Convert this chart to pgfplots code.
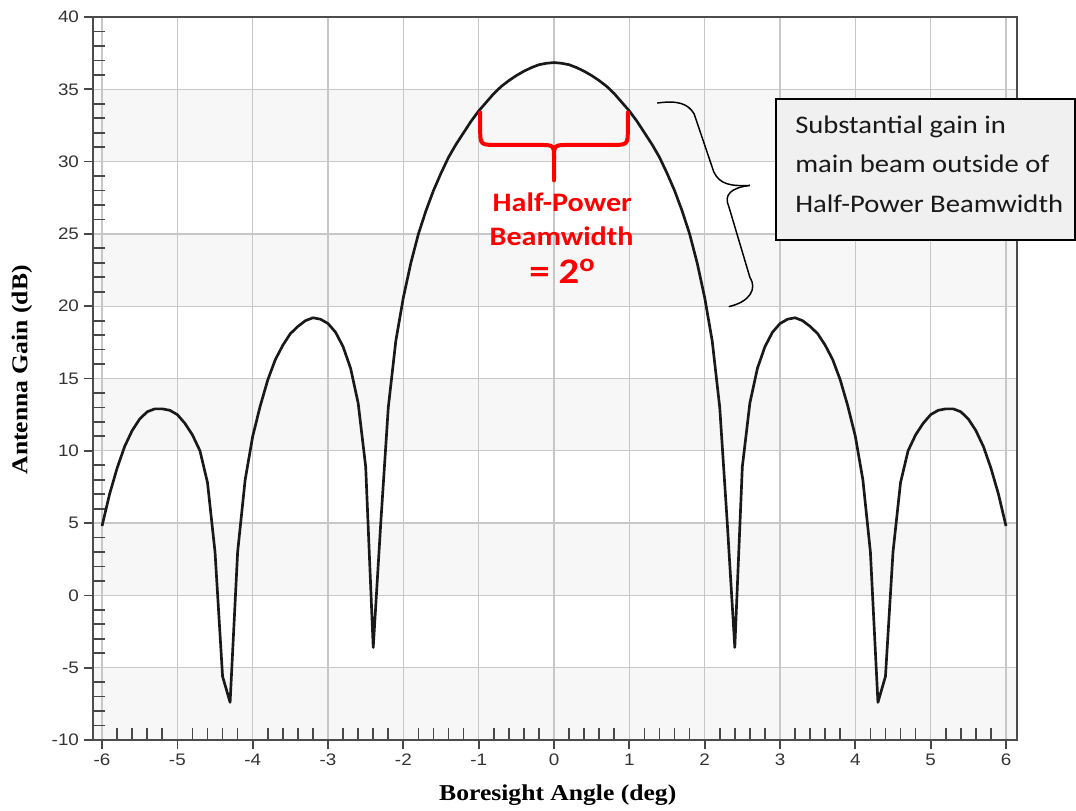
\documentclass[border=0pt]{standalone}
\usepackage{pgfplots}
\pgfplotsset{compat=1.18}
\usepackage{pgfplotstable}
\usepackage{fontspec}
\newfontfamily\tickfont[FakeStretch=1.13]{Liberation Sans}
\newfontfamily\labfont[FakeStretch=1.13]{Liberation Serif}
\newfontfamily\calib[FakeStretch=1.13]{Carlito}

\pgfplotstableread{
x y
-6.0 4.8
-5.9 7.0
-5.8 8.8
-5.7 10.3
-5.6 11.4
-5.5 12.2
-5.4 12.7
-5.3 12.9
-5.2 12.9
-5.1 12.8
-5.0 12.5
-4.9 11.9
-4.8 11.1
-4.7 10.0
-4.6 7.8
-4.5 3.0
-4.4 -5.6
-4.3 -7.4
-4.2 3.0
-4.1 8.0
-4.0 11.0
-3.9 13.1
-3.8 14.9
-3.7 16.3
-3.6 17.3
-3.5 18.1
-3.4 18.6
-3.3 19.0
-3.2 19.2
-3.1 19.1
-3.0 18.8
-2.9 18.2
-2.8 17.2
-2.7 15.7
-2.6 13.3
-2.5 8.9
-2.4 -3.6
-2.3 5.0
-2.2 13.0
-2.1 17.6
-2.0 20.6
-1.9 23.0
-1.8 25.0
-1.7 26.6
-1.6 28.0
-1.5 29.2
-1.4 30.3
-1.3 31.2
-1.2 32.0
-1.1 32.8
-1.0 33.5
-0.9 34.1
-0.8 34.7
-0.7 35.2
-0.6 35.6
-0.5 35.95
-0.4 36.25
-0.3 36.5
-0.2 36.7
-0.1 36.8
0.0 36.85
0.1 36.8
0.2 36.7
0.3 36.5
0.4 36.25
0.5 35.95
0.6 35.6
0.7 35.2
0.8 34.7
0.9 34.1
1.0 33.5
1.1 32.8
1.2 32.0
1.3 31.2
1.4 30.3
1.5 29.2
1.6 28.0
1.7 26.6
1.8 25.0
1.9 23.0
2.0 20.6
2.1 17.6
2.2 13.0
2.3 5.0
2.4 -3.6
2.5 8.9
2.6 13.3
2.7 15.7
2.8 17.2
2.9 18.2
3.0 18.8
3.1 19.1
3.2 19.2
3.3 19.0
3.4 18.6
3.5 18.1
3.6 17.3
3.7 16.3
3.8 14.9
3.9 13.1
4.0 11.0
4.1 8.0
4.2 3.0
4.3 -7.4
4.4 -5.6
4.5 3.0
4.6 7.8
4.7 10.0
4.8 11.1
4.9 11.9
5.0 12.5
5.1 12.8
5.2 12.9
5.3 12.9
5.4 12.7
5.5 12.2
5.6 11.4
5.7 10.3
5.8 8.8
5.9 7.0
6.0 4.8
}\gaindata

\begin{document}
\begin{tikzpicture}
\begin{axis}[
  at={(0,0)}, anchor=south west,
  scale only axis, width=693pt, height=542.25pt,
  xmin=-6.12, xmax=6.146, ymin=-10, ymax=40,
  xtick={-6,...,6}, ytick={-10,-5,...,40},
  minor x tick num=4, minor y tick num=4,
  xtick pos=bottom, ytick pos=left,
  tick align=outside,
  major tick length=7pt,
  minor tick length=-9pt,
  tick style={black!72, line width=1.3pt},
  grid=major,
  major grid style={black!22, line width=0.9pt},
  axis line style={black!70, line width=1.5pt},
  set layers,
  clip=false,
  ticklabel style={font=\tickfont\fontsize{12.5}{14}\selectfont, text=black!80},
  /pgf/number format/assume math mode=true,
  xlabel={Boresight Angle (deg)},
  ylabel={Antenna Gain (dB)},
  label style={font=\labfont\bfseries\fontsize{17}{20}\selectfont},
  xlabel style={at={(axis description cs:0.503,-0.0761)}, anchor=center},
  ylabel style={at={(axis description cs:-0.0768,0.512)}, anchor=center},
]
\addplot[on layer=axis background, fill=black!3, draw=none] coordinates {(-6.12,30) (6.146,30) (6.146,35) (-6.12,35)} -- cycle;
\addplot[on layer=axis background, fill=black!3, draw=none] coordinates {(-6.12,20) (6.146,20) (6.146,25) (-6.12,25)} -- cycle;
\addplot[on layer=axis background, fill=black!3, draw=none] coordinates {(-6.12,10) (6.146,10) (6.146,15) (-6.12,15)} -- cycle;
\addplot[on layer=axis background, fill=black!3, draw=none] coordinates {(-6.12,0) (6.146,0) (6.146,5) (-6.12,5)} -- cycle;
\addplot[on layer=axis background, fill=black!3, draw=none] coordinates {(-6.12,-10) (6.146,-10) (6.146,-5) (-6.12,-5)} -- cycle;

\addplot[black!90, line width=2pt, line join=round] table[x=x, y=y] {\gaindata};

% red half-power brace
\draw[red, line width=3pt, line cap=round]
  (axis cs:-0.98,33.4) -- (axis cs:-0.98,32.3)
  .. controls (axis cs:-0.98,31.15) .. (axis cs:-0.75,31.15)
  -- (axis cs:-0.2,31.15)
  .. controls (axis cs:0,31.15) .. (axis cs:0,30.2) -- (axis cs:0,28.7);
\draw[red, line width=3pt, line cap=round]
  (axis cs:0.98,33.4) -- (axis cs:0.98,32.3)
  .. controls (axis cs:0.98,31.15) .. (axis cs:0.75,31.15)
  -- (axis cs:0.2,31.15)
  .. controls (axis cs:0,31.15) .. (axis cs:0,30.2);
\node[red, anchor=base, inner sep=0pt, font=\calib\bfseries\fontsize{20}{24}\selectfont] at (axis cs:0.11,26.54) {Half-Power};
\node[red, anchor=base, inner sep=0pt, font=\calib\bfseries\fontsize{20}{24}\selectfont] at (axis cs:0.10,24.23) {Beamwidth};
\node[red, anchor=base, inner sep=0pt, font=\calib\bfseries\fontsize{27}{30}\selectfont] at (axis cs:0.11,21.58) {= 2\textsuperscript{o}};

% black brace
\draw[black, line width=1.1pt]
  (axis cs:1.37,34.05) .. controls (axis cs:1.65,34.25) and (axis cs:1.78,34.0) .. (axis cs:1.86,33.3)
  -- (axis cs:2.12,29.3) .. controls (axis cs:2.2,28.4) and (axis cs:2.35,28.3) .. (axis cs:2.6,28.35);
\draw[black, line width=1.1pt]
  (axis cs:2.6,28.35) .. controls (axis cs:2.35,28.2) and (axis cs:2.25,27.7) .. (axis cs:2.32,26.9)
  -- (axis cs:2.6,22.0) .. controls (axis cs:2.7,21.2) and (axis cs:2.6,20.3) .. (axis cs:2.32,19.97);

% annotation box
\draw[black, line width=1pt, fill=black!6] (axis cs:2.947,34.33) rectangle (axis cs:6.917,24.58);
\node[anchor=west, align=left, inner sep=0pt, text=black!90, font=\calib\fontsize{19}{29.6}\selectfont] at (axis cs:3.199,29.83)
  {Substantial gain in\\main beam outside of\\Half-Power Beamwidth};
\end{axis}
\pgfresetboundingbox
\useasboundingbox (-69.75pt,-53.25pt) rectangle (737.25pt,555pt);
\end{tikzpicture}
\end{document}
